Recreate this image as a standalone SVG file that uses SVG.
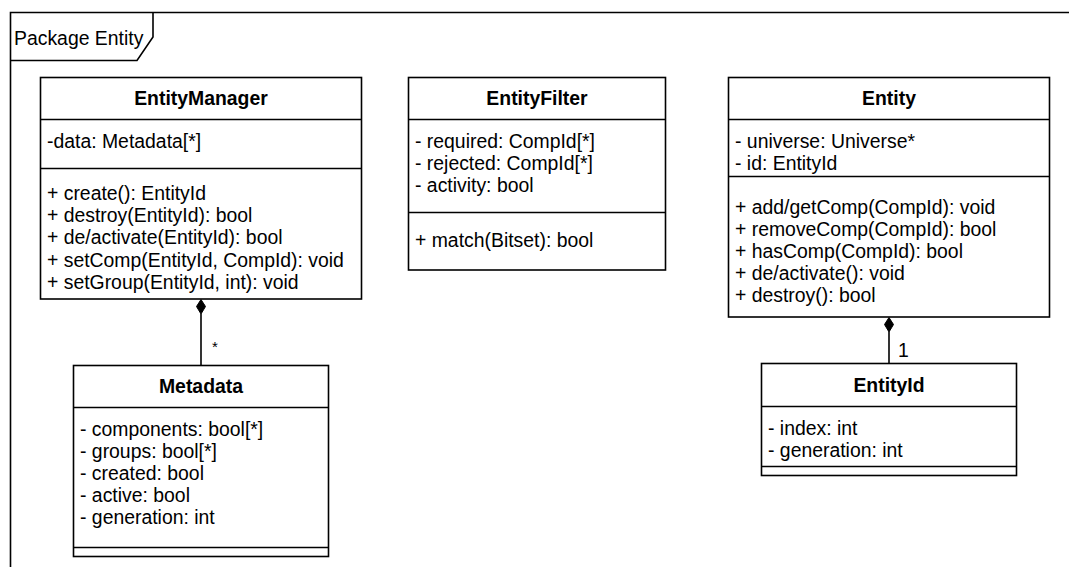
<svg xmlns="http://www.w3.org/2000/svg" width="1069" height="567" viewBox="0 0 1069 567">
<style>
.box{fill:#fff;stroke:#000;stroke-width:1.6}
.ln{stroke:#000;stroke-width:1.6;fill:none}
.t{font-family:"Liberation Sans",Arial,sans-serif;font-size:19.4px;fill:#000}
.b{font-weight:bold;text-anchor:middle}
.dia{fill:#000;stroke:#000;stroke-width:1}
</style>
<rect width="1069" height="567" fill="#fff"/>
<g id="package">
<path class="ln" d="M10.5,567 V12.5 H1069"/>
<path class="ln" d="M10.5,60.5 H137 L153,37 V12.5"/>
<text class="t" x="14" y="45">Package Entity</text>
</g>
<g id="EntityManager">
<rect class="box" x="40.5" y="77.5" width="321" height="221.5"/>
<line class="ln" x1="40.5" y1="119.5" x2="361.5" y2="119.5"/>
<line class="ln" x1="40.5" y1="168.5" x2="361.5" y2="168.5"/>
<text class="t b" x="201" y="105">EntityManager</text>
<text class="t" x="47" y="148">-data: Metadata[*]</text>
<text class="t" x="47" y="200">+ create(): EntityId</text>
<text class="t" x="47" y="222">+ destroy(EntityId): bool</text>
<text class="t" x="47" y="244">+ de/activate(EntityId): bool</text>
<text class="t" x="47" y="267">+ setComp(EntityId, CompId): void</text>
<text class="t" x="47" y="289">+ setGroup(EntityId, int): void</text>
</g>
<g id="EntityFilter">
<rect class="box" x="408.5" y="77.5" width="257" height="192.5"/>
<line class="ln" x1="408.5" y1="119.5" x2="665.5" y2="119.5"/>
<line class="ln" x1="408.5" y1="212.5" x2="665.5" y2="212.5"/>
<text class="t b" x="537" y="105">EntityFilter</text>
<text class="t" x="415" y="148">- required: CompId[*]</text>
<text class="t" x="415" y="170">- rejected: CompId[*]</text>
<text class="t" x="415" y="192">- activity: bool</text>
<text class="t" x="415" y="247">+ match(Bitset): bool</text>
</g>
<g id="Entity">
<rect class="box" x="728.5" y="77.5" width="321" height="239.5"/>
<line class="ln" x1="728.5" y1="119.5" x2="1049.5" y2="119.5"/>
<line class="ln" x1="728.5" y1="176.5" x2="1049.5" y2="176.5"/>
<text class="t b" x="889" y="105">Entity</text>
<text class="t" x="735" y="148">- universe: Universe*</text>
<text class="t" x="735" y="170">- id: EntityId</text>
<text class="t" x="735" y="214">+ add/getComp(CompId): void</text>
<text class="t" x="735" y="236">+ removeComp(CompId): bool</text>
<text class="t" x="735" y="258">+ hasComp(CompId): bool</text>
<text class="t" x="735" y="280">+ de/activate(): void</text>
<text class="t" x="735" y="302">+ destroy(): bool</text>
</g>
<g id="Metadata">
<rect class="box" x="73.5" y="365.5" width="255" height="191"/>
<line class="ln" x1="73.5" y1="407.5" x2="328.5" y2="407.5"/>
<line class="ln" x1="73.5" y1="547.5" x2="328.5" y2="547.5"/>
<text class="t b" x="201" y="393">Metadata</text>
<text class="t" x="80" y="436">- components: bool[*]</text>
<text class="t" x="80" y="458">- groups: bool[*]</text>
<text class="t" x="80" y="480">- created: bool</text>
<text class="t" x="80" y="502">- active: bool</text>
<text class="t" x="80" y="524">- generation: int</text>
</g>
<g id="EntityId">
<rect class="box" x="761.5" y="363.5" width="255" height="112"/>
<line class="ln" x1="761.5" y1="406.5" x2="1016.5" y2="406.5"/>
<line class="ln" x1="761.5" y1="466.5" x2="1016.5" y2="466.5"/>
<text class="t b" x="889" y="392">EntityId</text>
<text class="t" x="768" y="435">- index: int</text>
<text class="t" x="768" y="457">- generation: int</text>
</g>
<g id="connectors">
<line class="ln" x1="201" y1="314" x2="201" y2="365.5"/>
<polygon class="dia" points="201,299.5 205.5,306.5 201,314 196.5,306.5"/>
<text class="t" x="212" y="352" style="font-size:15px">*</text>
<line class="ln" x1="889" y1="332" x2="889" y2="363.5"/>
<polygon class="dia" points="889,317.5 893.5,324.5 889,332 884.5,324.5"/>
<text class="t" x="898" y="357">1</text>
</g>
</svg>
